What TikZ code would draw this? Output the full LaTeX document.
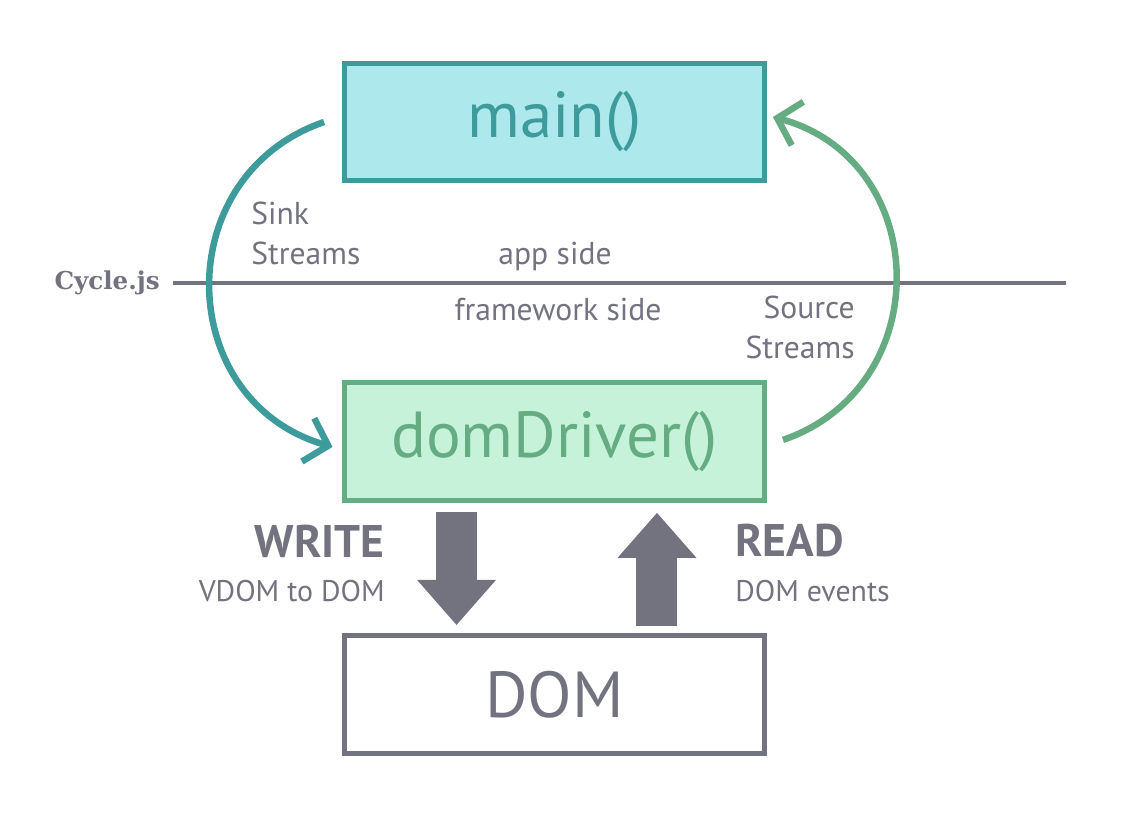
\documentclass[tikz,border=0pt]{standalone}
\usepackage{fontspec}
\setmainfont{PT Sans}
\newfontfamily\brandfont{DejaVu Serif}
\usepackage{tikz}
\usetikzlibrary{positioning,arrows.meta}
\definecolor{mainfill}{HTML}{ADE9EC}
\definecolor{mainline}{HTML}{3E9B9B}
\definecolor{drvfill}{HTML}{C6F2DA}
\definecolor{drvline}{HTML}{66AC82}
\definecolor{domgray}{HTML}{72737F}

\begin{document}
\begin{tikzpicture}[x=0.02cm, y=0.02cm,
box/.style={draw, line width=0.1cm, minimum width=8.42cm, minimum height=2.36cm, font=\fontsize{37}{42}\selectfont},
lbl/.style={text=domgray, inner sep=0pt, font=\fontsize{18}{23}\selectfont},
head/.style={text=domgray, inner sep=0pt, font=\bfseries\fontsize{26}{30}\selectfont},
flow/.style={line width=0.13cm, -{Straight Barb[length=0.42cm, width=0.9cm]}},
bigarrow/.style={domgray, line width=0.82cm, -{Triangle[length=0.9cm, width=1.58cm, line width=0pt]}}]

\useasboundingbox (0,0) rectangle (1133,-820);

% boxes
\node[box, fill=mainfill, draw=mainline, text=mainline] (main) at (554.5,-122) {main()};
\node[box, fill=drvfill, draw=drvline, text=drvline, below=3.94cm of main] (domDriver) {domDriver()};
\node[box, fill=white, draw=domgray, text=domgray, below=2.59cm of domDriver] (DOM) {DOM};

% app / framework border
\coordinate (linestart) at (173,-283);
\coordinate (lineend) at (1066,-283);
\node[left=0.26cm of linestart, inner sep=0pt, text=domgray, font=\brandfont\bfseries\fontsize{14}{16}\selectfont] (cyclejs) {Cycle.js};
\draw[domgray, line width=0.08cm] (linestart) -- (lineend);

\node[lbl, anchor=west, align=left] (sink) at (251,-233.5) {Sink\\Streams};
\node[lbl] (app) at (555,-256) {app side};
\node[lbl] (fw) at (558,-309) {framework side};
\node[lbl, anchor=east, align=right] (source) at (855,-327.5) {Source\\Streams};

% streams
\draw[flow, mainline] ([xshift=-0.35cm]main.west) to[out=199, in=164, looseness=1.3] ([shift={(-0.18cm,-0.1cm)}]domDriver.west);
\draw[flow, drvline] ([shift={(0.31cm,0.04cm)}]domDriver.east) to[out=19, in=-15, looseness=1.3] ([shift={(0.11cm,0.1cm)}]main.east);

% write / read
\draw[bigarrow] ([xshift=-1.96cm, yshift=-0.17cm]domDriver.south) -- ([xshift=-1.96cm, yshift=0.16cm]DOM.north);
\draw[bigarrow] ([xshift=2.05cm, yshift=0.14cm]DOM.north) -- ([xshift=2.05cm, yshift=-0.19cm]domDriver.south);
\node[head, anchor=east] (write) at (385,-541) {WRITE};
\node[lbl, anchor=east, font=\fontsize{17}{22}\selectfont] (vdom) at (385,-591) {VDOM to DOM};
\node[head, anchor=west] (read) at (735,-541) {READ};
\node[lbl, anchor=west, font=\fontsize{17}{22}\selectfont] (events) at (735,-591) {DOM events};
\end{tikzpicture}
\end{document}
